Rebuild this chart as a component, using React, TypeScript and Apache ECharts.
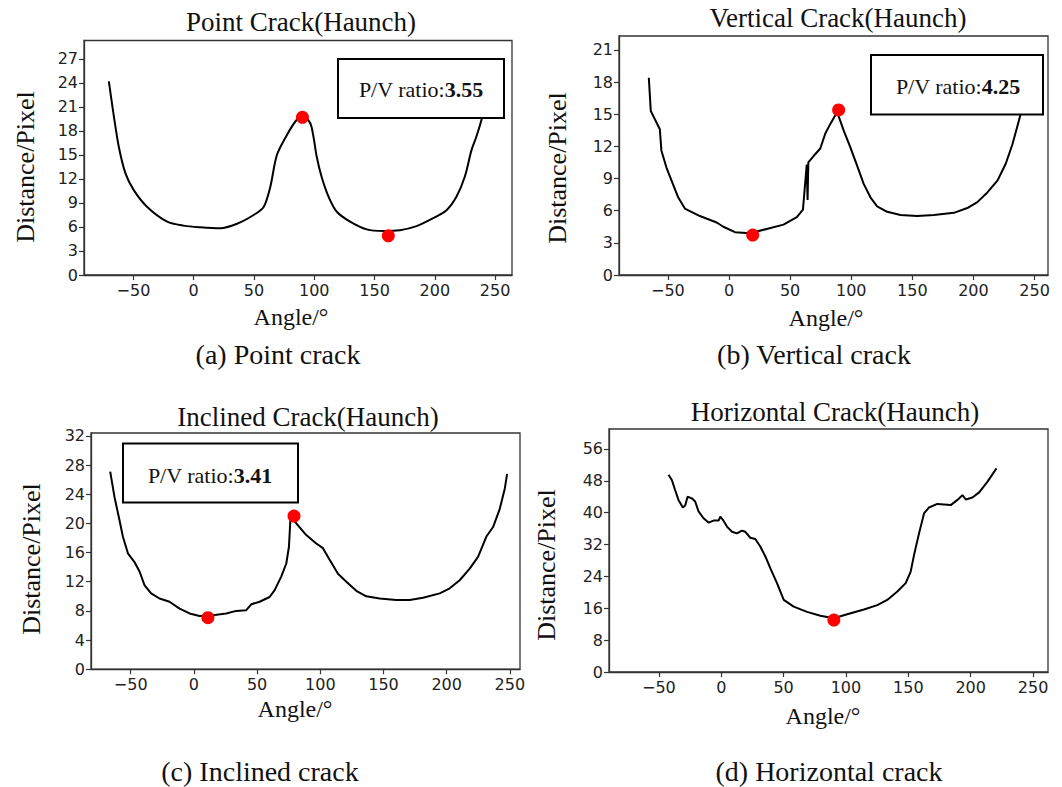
import React, { useEffect, useRef } from 'react';
import * as echarts from 'echarts';

// ---------- data ----------
const xTickValues = [-50, 0, 50, 100, 150, 200, 250];
const yTicksPoint = [0, 3, 6, 9, 12, 15, 18, 21, 24, 27];
const yTicksVertical = [0, 3, 6, 9, 12, 15, 18, 21];
const yTicksInclined = [0, 4, 8, 12, 16, 20, 24, 28, 32];
const yTicksHorizontal = [0, 8, 16, 24, 32, 40, 48, 56];

const titles = ['Point Crack(Haunch)', 'Vertical Crack(Haunch)', 'Inclined Crack(Haunch)', 'Horizontal Crack(Haunch)'];
const captions = ['(a) Point crack', '(b) Vertical crack', '(c) Inclined crack', '(d) Horizontal crack'];
const ratios = ['3.55', '4.25', '3.41', ''];
const xName = 'Angle/°';
const yName = 'Distance/Pixel';

const pointCrack: [number, number][] = [
  [-70.4, 24.2], [-66.2, 19.8], [-62.1, 16.0], [-56.6, 12.7], [-49.7, 10.6], [-38.6, 8.5],
  [-22, 6.67], [-8.3, 6.17], [5.5, 5.96], [22, 5.83], [35.9, 6.4], [49.7, 7.5], [58, 8.5],
  [63.5, 11.0], [69, 15.0], [77.3, 17.5], [85.5, 19.4], [91, 19.8], [96.6, 19.0], [99.3, 17.3],
  [102, 14.8], [106, 12.3], [111.8, 9.8], [118.7, 7.9], [129.7, 6.67], [143.5, 5.7], [157.3, 5.5],
  [171, 5.6], [184.9, 6.1], [198.7, 7.1], [209.7, 8.1], [218, 9.8], [224.9, 12.3], [230.4, 15.6],
  [234.5, 17.3], [238.7, 19.4], [241, 21],
];
const pointMarks: [number, number][] = [[90.2, 19.7], [161.4, 4.9]];

const verticalCrack: [number, number][] = [
  [-65.6, 18.4], [-64, 15.3], [-59.4, 14.25], [-56.6, 13.6], [-55.3, 11.6], [-51.1, 10.0],
  [-47, 8.8], [-41.6, 7.25], [-36.1, 6.2], [-23.8, 5.5], [-10.1, 4.9], [-4.6, 4.5], [4.9, 4.0],
  [17.2, 3.9], [30.9, 4.3], [44.6, 4.7], [55.5, 5.4], [60.5, 6.1], [63.6, 10.3], [64.3, 7.0],
  [64.9, 10.5], [69.2, 11.1], [74.7, 11.8], [78.8, 13.2], [82.9, 14.1], [88.5, 15.2], [93.8, 13.5],
  [99.3, 11.9], [104.8, 10.2], [110.2, 8.5], [115.7, 7.25], [121.2, 6.4], [129.4, 5.9], [140.3, 5.6],
  [154, 5.5], [167.7, 5.6], [184, 5.8], [195, 6.25], [203.2, 6.8], [211.4, 7.7], [219.6, 8.8],
  [226.5, 10.4], [231.9, 12.2], [236, 13.9], [240, 15.6],
];
const verticalMarks: [number, number][] = [[19.4, 3.73], [89.7, 15.4]];

const inclinedCrack: [number, number][] = [
  [-66.2, 27.1], [-62.8, 23.6], [-58.8, 20.4], [-56.2, 18.2], [-52.2, 15.9], [-47, 14.7],
  [-43, 13.4], [-39, 11.5], [-33.8, 10.4], [-27.2, 9.7], [-19.3, 9.25], [-11.3, 8.3], [-3.4, 7.65],
  [4.5, 7.3], [15, 7.4], [25.6, 7.65], [33.5, 8.0], [41.4, 8.1], [45.4, 8.9], [52, 9.25],
  [59.9, 9.9], [63.9, 10.85], [69.1, 12.7], [73.1, 14.5], [75.2, 16.8], [76.3, 20.4], [77, 20.9],
  [81, 20.0], [88.9, 18.4], [96.8, 17.25], [102.1, 16.6], [107.4, 15.0], [114, 13.1], [120.6, 12.0],
  [128.5, 10.75], [136.4, 10.0], [147, 9.7], [160, 9.5], [170.7, 9.5], [181.3, 9.8], [194.5, 10.4],
  [202.4, 11.1], [210.3, 12.2], [218.2, 13.8], [224.8, 15.4], [231.4, 18.2], [236.7, 19.5],
  [242, 22], [246, 24.8], [247.8, 26.8],
];
const inclinedMarks: [number, number][] = [[11.1, 7.06], [79.2, 21.0]];

const horizontalCrack: [number, number][] = [
  [-42.3, 49.5], [-39.6, 48.2], [-37, 45.7], [-34.3, 43.2], [-30.8, 41.3], [-28.9, 41.8],
  [-27, 44.0], [-23.6, 43.6], [-20.9, 42.8], [-18.2, 40.3], [-14.2, 38.6], [-10.2, 37.5],
  [-6.2, 38.0], [-2.1, 38.0], [-0.8, 39.0], [1.3, 38.2], [4.6, 36.5], [8.6, 35.2], [12.6, 34.8],
  [16.6, 35.5], [19.3, 35.2], [23.3, 33.7], [27.3, 33.4], [31.3, 31.5], [35.4, 29.0], [39.4, 26.0],
  [44.7, 22.3], [50.1, 18.1], [58.1, 16.4], [68.8, 15.1], [79.5, 14.1], [90.3, 13.5], [101, 14.5],
  [114.4, 15.7], [125.1, 16.8], [133.1, 18.1], [141.2, 20.2], [147.9, 22.3], [151.9, 25.2],
  [154.6, 29.4], [158.6, 34.8], [162.6, 39.8], [166.6, 41.3], [173.3, 42.2], [184, 41.9],
  [189.4, 43.2], [193.4, 44.4], [196.1, 43.3], [201.4, 43.8], [206.8, 45.1], [213.5, 47.8],
  [220.7, 51.1],
];
const horizontalMarks: [number, number][] = [[90.3, 13.05]];

// ---------- layout ----------
const SERIF = '"Liberation Serif", "Times New Roman", serif';
const SANS = '"DejaVu Sans", sans-serif';

const panels = [
  {
    grid: { left: 84, top: 40.5, width: 428, height: 234.5 }, xRange: [-91, 264], yRange: [0, 29.3],
    yTicks: yTicksPoint, line: pointCrack, marks: pointMarks, smooth: 0.3,
    title: [301, 22], yLab: [25, 167], xLab: [291, 317], cap: [278, 354],
    box: [338, 59, 166, 59], boxText: [421, 89],
  },
  {
    grid: { left: 619, top: 36, width: 429, height: 239 }, xRange: [-90, 261], yRange: [0, 22.3],
    yTicks: yTicksVertical, line: verticalCrack, marks: verticalMarks, smooth: false,
    title: [838, 18], yLab: [557, 168], xLab: [826, 318], cap: [814, 354],
    box: [871, 55, 172, 59.5], boxText: [958, 86],
  },
  {
    grid: { left: 91, top: 433, width: 429, height: 236.2 }, xRange: [-81.4, 258], yRange: [0, 32.4],
    yTicks: yTicksInclined, line: inclinedCrack, marks: inclinedMarks, smooth: false,
    title: [308, 417], yLab: [31, 559], xLab: [295, 709], cap: [260, 771],
    box: [123, 443.5, 175, 59], boxText: [210, 475],
  },
  {
    grid: { left: 609, top: 429, width: 439, height: 243 }, xRange: [-90, 262], yRange: [0, 61],
    yTicks: yTicksHorizontal, line: horizontalCrack, marks: horizontalMarks, smooth: false,
    title: [835, 412], yLab: [546, 565], xLab: [823, 716], cap: [829, 771],
    box: null as null | number[], boxText: null as null | number[],
  },
];

const fmt = (v: number) => (v < 0 ? '\u2212' + Math.abs(v) : String(v));

function buildOption() {
  const grid: any[] = [];
  const xAxis: any[] = [];
  const yAxis: any[] = [];
  const series: any[] = [];
  const graphic: any[] = [];

  panels.forEach((p, i) => {
    grid.push({ ...p.grid, show: true, borderColor: '#333', borderWidth: 1.3, backgroundColor: '#fff' });
    xAxis.push({
      gridIndex: i, type: 'value', min: p.xRange[0], max: p.xRange[1],
      axisLine: { show: true, onZero: false, lineStyle: { color: '#333', width: 1.3 } },
      axisTick: { show: true, length: 5, customValues: xTickValues, lineStyle: { color: '#333', width: 1.2 } },
      axisLabel: { customValues: xTickValues, formatter: fmt, fontFamily: SANS, fontSize: 16, color: '#222', margin: 7 },
      splitLine: { show: false },
    });
    yAxis.push({
      gridIndex: i, type: 'value', min: p.yRange[0], max: p.yRange[1],
      axisLine: { show: true, onZero: false, lineStyle: { color: '#333', width: 1.3 } },
      axisTick: { show: true, length: 5, customValues: p.yTicks, lineStyle: { color: '#333', width: 1.2 } },
      axisLabel: { customValues: p.yTicks, formatter: fmt, fontFamily: SANS, fontSize: 16, color: '#222', margin: 6 },
      splitLine: { show: false },
    });
    series.push({
      type: 'line', xAxisIndex: i, yAxisIndex: i, data: p.line, symbol: 'none', showSymbol: false,
      smooth: p.smooth, lineStyle: { color: '#000', width: 2 }, z: 2, silent: true,
    });
    series.push({
      type: 'scatter', xAxisIndex: i, yAxisIndex: i, data: p.marks, symbol: 'circle', symbolSize: 13,
      itemStyle: { color: '#ff0000', opacity: 1 }, z: 3, silent: true,
    });

    graphic.push({
      type: 'text', x: p.title[0], y: p.title[1], z: 100,
      style: { text: titles[i], fontFamily: SERIF, fontSize: 27, fill: '#111', textAlign: 'center', textVerticalAlign: 'middle', align: 'center', verticalAlign: 'middle' },
    });
    graphic.push({
      type: 'text', x: p.yLab[0], y: p.yLab[1], rotation: Math.PI / 2, z: 100,
      style: { text: yName, fontFamily: SERIF, fontSize: 26, fill: '#111', textAlign: 'center', textVerticalAlign: 'middle', align: 'center', verticalAlign: 'middle' },
    });
    graphic.push({
      type: 'text', x: p.xLab[0], y: p.xLab[1], z: 100,
      style: { text: xName, fontFamily: SERIF, fontSize: 24, fill: '#111', textAlign: 'center', textVerticalAlign: 'middle', align: 'center', verticalAlign: 'middle' },
    });
    graphic.push({
      type: 'text', x: p.cap[0], y: p.cap[1], z: 100,
      style: { text: captions[i], fontFamily: SERIF, fontSize: 28, fill: '#111', textAlign: 'center', textVerticalAlign: 'middle', align: 'center', verticalAlign: 'middle' },
    });
    if (p.box && p.boxText && ratios[i]) {
      graphic.push({
        type: 'rect', z: 100,
        shape: { x: p.box[0], y: p.box[1], width: p.box[2], height: p.box[3] },
        style: { fill: '#fff', stroke: '#000', lineWidth: 2 },
      });
      graphic.push({
        type: 'text', x: p.boxText[0], y: p.boxText[1], z: 101,
        style: {
          text: 'P/V ratio:{b|' + ratios[i] + '}', fontFamily: SERIF, fontSize: 22, fill: '#111',
          textAlign: 'center', textVerticalAlign: 'middle', align: 'center', verticalAlign: 'middle',
          rich: { b: { fontFamily: SERIF, fontSize: 22, fontWeight: 'bold', fill: '#111' } },
        },
      });
    }
  });

  return { animation: false, backgroundColor: '#fff', grid, xAxis, yAxis, series, graphic };
}

export default function App() {
  const ref = useRef<HTMLDivElement>(null);
  useEffect(() => {
    if (!ref.current) return;
    const chart = echarts.init(ref.current, undefined, { renderer: 'svg' });
    chart.setOption(buildOption() as any);
    return () => chart.dispose();
  }, []);
  return <div ref={ref} style={{ position: 'absolute', left: 0, top: 0, width: 1062, height: 787, background: '#fff' }} />;
}
